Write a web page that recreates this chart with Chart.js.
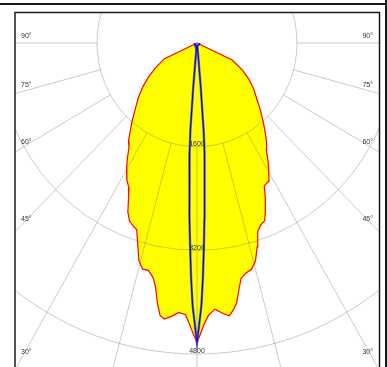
<!DOCTYPE html>
<html>
<head>
<meta charset="utf-8">
<script src="https://cdn.jsdelivr.net/npm/chart.js@4/dist/chart.umd.min.js"></script>
<style>
  html, body { margin: 0; padding: 0; background: #fff; }
  #wrap { width: 387px; height: 367px; }
</style>
</head>
<body>
<div id="wrap"><canvas id="chart" width="387" height="367"></canvas></div>
<script>
// gamma angles in degrees from nadir, wide plane (red / yellow)
const gammaAngles = [0, 1.5, 2.5, 4, 5.5, 7, 8, 9, 10, 11, 12.5, 14, 15.5, 17, 18.5, 20, 21.5, 23, 24.5, 26,
  28, 30, 32, 34, 36, 38, 40.5, 44, 48, 52, 56, 60, 65, 70, 90];
// C180 (left half) and C0 (right half), cd
const planeC180 = [4630, 4359, 4198, 4168, 4238, 4292, 4245, 4057, 3823, 3687, 3594, 3597, 3481, 3245, 3041, 3000, 2949, 2832, 2642, 2485,
  2391, 2255, 2102, 1947, 1864, 1738, 1605, 1425, 1264, 1100, 935, 767, 580, 0, 0];
const planeC0 = [4630, 4342, 4208, 4117, 4185, 4240, 4164, 4059, 3863, 3697, 3634, 3600, 3497, 3292, 3064, 2988, 2950, 2806, 2636, 2456,
  2424, 2300, 2143, 1980, 1894, 1778, 1641, 1471, 1286, 1152, 1003, 845, 620, 0, 0];

// narrow plane (blue), same on both halves
const narrowAngles = [0, 1, 1.5, 2, 2.5, 3, 3.5, 4, 4.5, 5, 5.5, 6, 30, 60, 90];
const planeC90 = [4630, 4050, 3620, 3150, 2720, 2330, 1990, 1700, 1350, 700, 200, 40, 40, 40, 40];

// grid
const ringValues = [1600, 3200, 4800];
const ringLabels = ['1600', '3200', '4800'];
const spokeAngles = [0, 15, 30, 45, 60, 75, 90];
const sideLabels = ['90°', '75°', '60°', '45°', '30°'];
const bottomLabels = ['15°', '0°', '15°'];

function polar(side, deg, v) {
  const a = deg * Math.PI / 180;
  return { x: side * v * Math.sin(a), y: -v * Math.cos(a) };
}

function lobe(angles, leftVals, rightVals) {
  const pts = [];
  for (let i = angles.length - 1; i >= 0; i--) pts.push(polar(-1, angles[i], leftVals[i]));
  for (let i = 1; i < angles.length; i++) pts.push(polar(1, angles[i], rightVals[i]));
  return pts;
}

const widePts = lobe(gammaAngles, planeC180, planeC0);
const narrowPts = lobe(narrowAngles, planeC90, planeC90);

const FONT = '7px "Liberation Sans", Arial, sans-serif';

// grid goes over the yellow fill but under the curves
const polarGrid = {
  id: 'polarGrid',
  afterDatasetDraw(chart, args) {
    if (args.index !== 3) return;
    const { ctx, chartArea: a, scales: { x, y } } = chart;
    const cx = x.getPixelForValue(0), cy = y.getPixelForValue(0);
    ctx.save();
    ctx.beginPath();
    ctx.rect(a.left, a.top, a.right - a.left, a.bottom - a.top);
    ctx.clip();
    ctx.strokeStyle = 'rgba(110,110,110,0.36)';
    ctx.lineWidth = 1;
    ringValues.forEach(r => {
      const rx = x.getPixelForValue(r) - cx;
      const ry = y.getPixelForValue(-r) - cy;
      ctx.beginPath();
      ctx.ellipse(cx, cy, rx, ry, 0, 0, Math.PI * 2);
      ctx.stroke();
    });
    spokeAngles.forEach(deg => {
      const sides = deg === 0 ? [1] : [-1, 1];
      sides.forEach(s => {
        const p0 = polar(s, deg, ringValues[0]);
        const p1 = polar(s, deg, 9000);
        ctx.beginPath();
        ctx.moveTo(x.getPixelForValue(p0.x), y.getPixelForValue(p0.y));
        ctx.lineTo(x.getPixelForValue(p1.x), y.getPixelForValue(p1.y));
        ctx.stroke();
      });
    });
    ctx.restore();
  },
  afterDraw(chart) {
    const { ctx, chartArea: a, scales: { x, y } } = chart;
    const cx = x.getPixelForValue(0);
    ctx.save();
    ctx.font = FONT;
    ctx.fillStyle = '#333';
    ctx.textAlign = 'center';
    ctx.textBaseline = 'middle';
    ringValues.forEach((r, i) => {
      ctx.fillText(ringLabels[i], cx, y.getPixelForValue(-r) - 2.5);
    });

    // angle labels along the sides
    const labelY = [36.5, 85.5, 142.5, 219, 352.5];
    sideLabels.forEach((t, i) => {
      ctx.textAlign = 'left';
      ctx.fillText(t, a.left + 6, labelY[i]);
      ctx.textAlign = 'right';
      ctx.fillText(t, a.right - 6, labelY[i]);
    });
    // labels below the visible area, only their tops show
    ctx.textAlign = 'center';
    ctx.textBaseline = 'top';
    const bx = [103, cx, 289];
    bottomLabels.forEach((t, i) => ctx.fillText(t, bx[i], a.bottom + 0.5));

    // frames
    ctx.strokeStyle = '#1a1a1a';
    ctx.lineWidth = 2;
    ctx.beginPath();
    ctx.moveTo(0, 4); ctx.lineTo(387, 4);
    ctx.moveTo(386, 0); ctx.lineTo(386, 367);
    ctx.stroke();
    ctx.lineWidth = 1.5;
    ctx.beginPath();
    ctx.moveTo(a.left, 367); ctx.lineTo(a.left, 12.5);
    ctx.lineTo(a.right + 0.5, 12.5); ctx.lineTo(a.right + 0.5, 367);
    ctx.stroke();
    ctx.restore();
  }
};

new Chart(document.getElementById('chart'), {
  type: 'scatter',
  data: {
    datasets: [
      { data: narrowPts, showLine: true, borderColor: '#0000ff', borderWidth: 1.1, fill: false },
      { data: narrowPts, showLine: true, borderColor: '#777777', borderWidth: 2.4, fill: false },
      { data: widePts, showLine: true, borderColor: '#ff0000', borderWidth: 1.2, fill: false },
      { data: widePts, showLine: true, borderColor: 'rgba(0,0,0,0)', borderWidth: 1, backgroundColor: '#ffff00', fill: 'shape' }
    ]
  },
  options: {
    responsive: false,
    animation: false,
    layout: { padding: { left: 15, right: 8, top: 13, bottom: 0 } },
    elements: { point: { radius: 0, hoverRadius: 0 }, line: { tension: 0 } },
    plugins: { legend: { display: false }, tooltip: { enabled: false } },
    scales: {
      x: { type: 'linear', min: -2912, max: 2912, display: false },
      y: { type: 'linear', min: -5000, max: 463, display: false }
    }
  },
  plugins: [polarGrid]
});
</script>
</body>
</html>
